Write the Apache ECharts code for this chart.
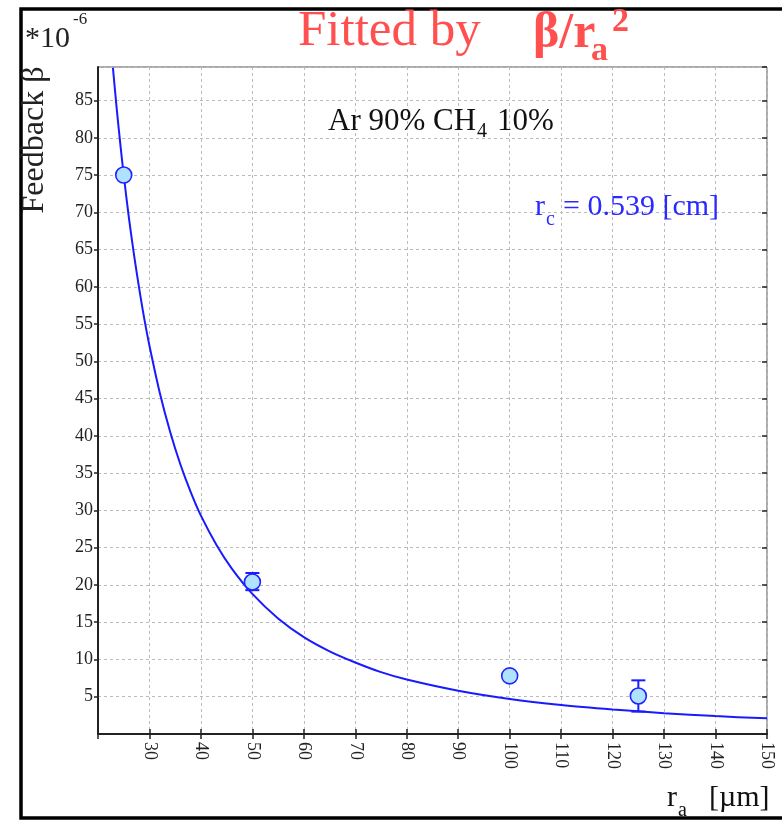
<!DOCTYPE html>
<html>
<head>
<meta charset="utf-8">
<script src="https://cdn.jsdelivr.net/npm/echarts@6/dist/echarts.min.js"></script>
<style>
html,body{margin:0;padding:0;background:#fff;}
#main{width:782px;height:821px;}
</style>
</head>
<body>
<div id="main"></div>
<script>
// ---- data ----
const xTicks = [30, 40, 50, 60, 70, 80, 90, 100, 110, 120, 130, 140, 150];
const yTicks = [5, 10, 15, 20, 25, 30, 35, 40, 45, 50, 55, 60, 65, 70, 75, 80, 85];
const pointR = [25, 50, 100, 125];
const pointBeta = [75.0, 20.4, 7.8, 5.1];
const errR = [50, 125];
const errLow = [19.3, 3.0];
const errHigh = [21.6, 7.2];
const fitR = [22.9, 23.5, 24, 24.5, 25, 26, 27, 28, 29, 30, 32, 34, 36, 38, 40, 43, 46, 50, 55, 60, 65, 70, 75, 80, 90, 100, 110, 120, 130, 140, 150];
const fitBeta = [89.4, 84.9, 81.4, 78.1, 75.0, 69.3, 64.3, 59.8, 55.7, 52.1, 45.8, 40.6, 36.2, 32.5, 29.3, 25.4, 22.2, 18.8, 15.5, 13.0, 11.1, 9.6, 8.3, 7.3, 5.8, 4.7, 3.9, 3.3, 2.8, 2.4, 2.1];

const SERIF = '"Liberation Serif", "DejaVu Serif", serif';
const chart = echarts.init(document.getElementById('main'), null, {renderer: 'canvas'});

function txt(text, x, y, size, color, opts) {
  opts = opts || {};
  return {
    type: 'text', x: x, y: y, rotation: opts.rotation || 0, z: 100,
    style: {
      text: text, fill: color, fontFamily: SERIF, fontSize: size,
      fontWeight: opts.bold ? 'bold' : 'normal',
      align: opts.align || 'left', verticalAlign: 'middle'
    }
  };
}

const RED = '#ff4f4f';
const BLUE = '#2a2aff';
const axisLabelStyle = {fontFamily: SERIF, fontSize: 18, color: '#222'};

const option = {
  animation: false,
  backgroundColor: '#fff',
  grid: {left: 98, top: 67, right: 15, bottom: 87, show: true, borderColor: '#555', borderWidth: 1},
  xAxis: [{
    type: 'value', min: 20, max: 150, interval: 10,
    axisLine: {show: true, onZero: false, lineStyle: {color: '#222', width: 2}},
    axisTick: {show: true, inside: true, length: 5, lineStyle: {color: '#222', width: 1.5}},
    axisLabel: Object.assign({rotate: -90, margin: 8, showMinLabel: false,
      formatter: v => xTicks.indexOf(v) >= 0 ? String(v) : ''}, axisLabelStyle),
    splitLine: {show: true, lineStyle: {color: '#bbb', type: [3, 3], width: 1}}
  }, {
    type: 'value', position: 'top', min: 20, max: 150, interval: 10,
    axisLine: {show: false},
    axisTick: {show: true, inside: true, length: 5, lineStyle: {color: '#222', width: 1.5}},
    axisLabel: {show: false}, splitLine: {show: false}
  }],
  yAxis: [{
    type: 'value', min: 0, max: 89.5, interval: 5,
    axisLine: {show: true, onZero: false, lineStyle: {color: '#222', width: 2}},
    axisTick: {show: true, inside: false, length: 4, lineStyle: {color: '#222', width: 1.5}},
    axisLabel: Object.assign({margin: 5, showMinLabel: false, showMaxLabel: false,
      formatter: v => yTicks.indexOf(v) >= 0 ? String(v) : ''}, axisLabelStyle),
    splitLine: {show: true, lineStyle: {color: '#bbb', type: [3, 3], width: 1}}
  }, {
    type: 'value', position: 'right', min: 0, max: 89.5, interval: 5,
    axisLine: {show: false},
    axisTick: {show: true, inside: true, length: 5, lineStyle: {color: '#222', width: 1.5}},
    axisLabel: {show: false}, splitLine: {show: false}
  }],
  series: [{
    type: 'line', smooth: 0.3, showSymbol: false, clip: true,
    data: fitR.map((r, i) => [r, fitBeta[i]]),
    lineStyle: {color: '#1a1aff', width: 2}, z: 2
  }, {
    type: 'custom', z: 3,
    data: errR.map((r, i) => [r, errLow[i], errHigh[i]]),
    renderItem: function (params, api) {
      const lo = api.coord([api.value(0), api.value(1)]);
      const hi = api.coord([api.value(0), api.value(2)]);
      const hw = 7;
      const st = {stroke: '#1a1aff', lineWidth: 2};
      return {type: 'group', children: [
        {type: 'line', shape: {x1: lo[0], y1: lo[1], x2: hi[0], y2: hi[1]}, style: st},
        {type: 'line', shape: {x1: lo[0] - hw, y1: lo[1], x2: lo[0] + hw, y2: lo[1]}, style: st},
        {type: 'line', shape: {x1: hi[0] - hw, y1: hi[1], x2: hi[0] + hw, y2: hi[1]}, style: st}
      ]};
    }
  }, {
    type: 'scatter', z: 4, symbol: 'circle', symbolSize: 16,
    data: pointR.map((r, i) => [r, pointBeta[i]]),
    itemStyle: {color: '#aee2ff', borderColor: '#2222ff', borderWidth: 1.6, opacity: 1}
  }],
  graphic: [
    {type: 'rect', z: 100, shape: {x: 21, y: 9, width: 800, height: 809},
     style: {fill: 'none', stroke: '#000', lineWidth: 3.5}},
    txt('*10', 25, 39, 30, '#222'),
    txt('-6', 73, 20, 17, '#222'),
    txt('Fitted by', 298, 32, 51, RED),
    txt('β/r', 533, 34, 50, RED, {bold: true}),
    txt('a', 591, 51, 34, RED, {bold: true}),
    txt('2', 612, 22, 34, RED, {bold: true}),
    txt('Feedback β', 35, 140, 32, '#222', {rotation: Math.PI / 2, align: 'center'}),
    txt('Ar 90% CH', 328, 122, 31, '#111'),
    txt('4', 477, 132, 20, '#111'),
    txt('10%', 497, 122, 31, '#111'),
    txt('r', 535, 207, 30, BLUE),
    txt('c', 546, 220, 20, BLUE),
    txt('= 0.539 [cm]', 563, 207, 30, BLUE),
    txt('r', 667, 798, 30, '#111'),
    txt('a', 678, 811, 20, '#111'),
    txt('[µm]', 709, 798, 30, '#111')
  ]
};
chart.setOption(option);
</script>
</body>
</html>
